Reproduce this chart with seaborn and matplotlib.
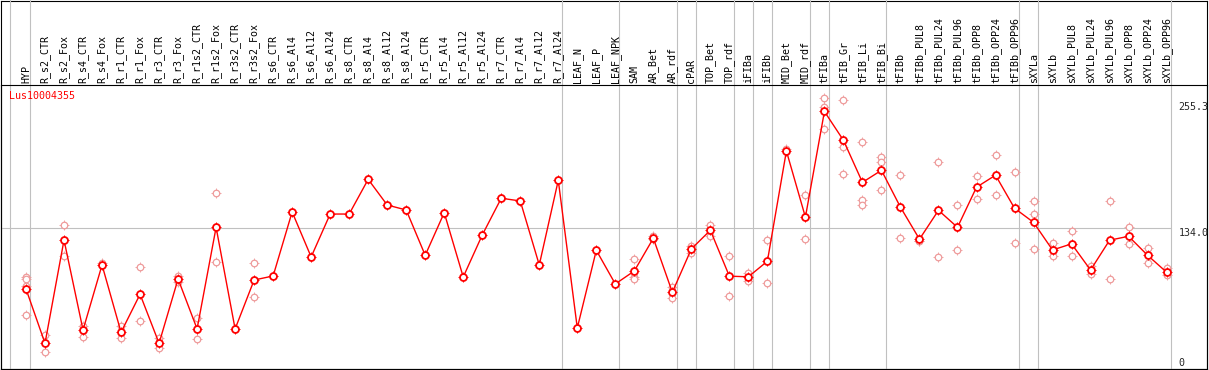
import numpy as np
import pandas as pd
import matplotlib
matplotlib.use("Agg")
import matplotlib.pyplot as plt
import seaborn as sns

# ---------------- data ----------------
categories = [
    "HYP", "R_s2_CTR", "R_s2_Fox", "R_s4_CTR", "R_s4_Fox", "R_r1_CTR", "R_r1_Fox",
    "R_r3_CTR", "R_r3_Fox", "R_r1s2_CTR", "R_r1s2_Fox", "R_r3s2_CTR", "R_r3s2_Fox",
    "R_s6_CTR", "R_s6_Al4", "R_s6_Al12", "R_s6_Al24", "R_s8_CTR", "R_s8_Al4",
    "R_s8_Al12", "R_s8_Al24", "R_r5_CTR", "R_r5_Al4", "R_r5_Al12", "R_r5_Al24",
    "R_r7_CTR", "R_r7_Al4", "R_r7_Al12", "R_r7_Al24", "LEAF_N", "LEAF_P", "LEAF_NPK",
    "SAM", "AR_Bet", "AR_rdf", "cPAR", "TOP_Bet", "TOP_rdf", "iFIBa", "iFIBb",
    "MID_Bet", "MID_rdf", "tFIBa", "tFIB_Gr", "tFIB_Li", "tFIB_Bi", "tFIBb",
    "tFIBb_PUL8", "tFIBb_PUL24", "tFIBb_PUL96", "tFIBb_OPP8", "tFIBb_OPP24",
    "tFIBb_OPP96", "sXYLa", "sXYLb", "sXYLb_PUL8", "sXYLb_PUL24", "sXYLb_PUL96",
    "sXYLb_OPP8", "sXYLb_OPP24", "sXYLb_OPP96",
]

means = [
    75.6, 23.3, 122.7, 36.1, 98.7, 33.9, 70.5, 23.3, 85.2, 37.1, 134.9, 37.1, 84.2,
    88.1, 149.7, 106.4, 147.7, 147.7, 181.1, 156.4, 151.6, 108.0, 149.0, 87.1, 127.5,
    162.9, 160.3, 98.7, 180.2, 38.0, 112.8, 80.4,
    92.9, 124.4, 72.4, 114.1, 132.1, 87.9, 87.3, 102.3,
    208.4, 144.7, 246.4, 218.7, 178.2, 189.8, 154.3,
    123.5, 151.3, 134.9, 173.5, 185.1, 153.3,
    139.7, 113.1, 119.0, 93.8, 122.5, 126.3, 108.0, 91.7,
]

replicates = [
    [86.8, 85.2, 78.4, 50.5], [31.3, 14.6], [137.2, 107.6], [40.2, 29.6], [100.3],
    [40.2, 28.1], [96.4, 44.5], [28.1, 18.5], [88.4, 82.6], [47.9, 27.1],
    [168.2, 101.3], [], [100.3, 67.6],
    [], [], [], [], [], [], [], [], [], [], [], [], [], [], [], [],
    [], [], [],
    [104.1, 87.4, 85.2], [126.9, 123.7], [77.2, 67.2], [117.2, 109.9],
    [137.2, 126.6], [107.0, 68.5], [90.7, 83.5], [122.4, 81.6],
    [210.3], [165.7, 123.4], [259.4, 250.7, 229.3], [257.2, 212.5, 185.9],
    [216.7, 161.2, 156.7], [202.3, 197.8, 170.8], [185.0, 124.4],
    [122.2, 121.8], [197.8, 106.1], [156.4, 112.8], [184.0, 162.5],
    [204.2, 165.7], [188.2, 119.5],
    [160.0, 147.7, 113.8], [120.1, 107.0], [131.4, 107.0], [98.0, 90.3],
    [160.0, 85.2], [134.9, 118.6], [114.7, 100.3], [95.5, 89.0],
]

# last category index of each group (a separator is drawn right after it)
group_ends = [0, 28, 31, 34, 35, 37, 38, 39, 41, 42, 45, 52, 53, 60]
gene_name = "Lus10004355"
ref_value = 134.0
top_value = 255.3

# ---------------- frames ----------------
idx = np.arange(len(categories))
df_mean = pd.DataFrame({"x": idx, "value": means})
df_rep = pd.DataFrame(
    [(i, v) for i, vals in enumerate(replicates) for v in vals], columns=["x", "value"]
)

sns.set_theme(style="white")
plt.rcParams["font.family"] = ["DejaVu Sans Mono", "DejaVu Sans"]

W, H = 1209, 370
fig = plt.figure(figsize=(W / 100, H / 100), dpi=100)

# pixel geometry
x0_px, dx_px = 26.0, 19.01          # first category centre, spacing
y0_px, dy_px = 367.5, 1.039         # value 0 position, px per unit
ax_l, ax_r, ax_t, ax_b = 1.0, 1207.0, 85.0, 369.0

# outer frame
frame = fig.add_axes([ax_l / W, (H - ax_b) / H, (ax_r - ax_l) / W, (ax_b - 0.5) / H])
frame.set_xticks([]); frame.set_yticks([])
for s in frame.spines.values():
    s.set_color("black"); s.set_linewidth(0.8); s.set_visible(True)
frame.set_facecolor("white")
frame.set_zorder(0)

ax = fig.add_axes([ax_l / W, (H - ax_b) / H, (ax_r - ax_l) / W, (ax_b - ax_t) / H])
ax.set_zorder(1)
ax.patch.set_alpha(0)
ax.set_xlim((ax_l - x0_px) / dx_px, (ax_r - x0_px) / dx_px)
ax.set_ylim((y0_px - ax_b) / dy_px, (y0_px - ax_t) / dy_px)
for s in ax.spines.values():
    s.set_color("black"); s.set_linewidth(0.8); s.set_visible(True)

grid_c = "#c0c0c0"
extra = (ax_t - 0) / (ax_b - ax_t)
ax.axvline((10.3 - x0_px) / dx_px, ymin=0, ymax=1 + extra, color=grid_c, lw=0.8,
           clip_on=False, zorder=0.5)
for g in group_ends:
    ax.axvline(g + 0.22, ymin=0, ymax=1 + extra, color=grid_c, lw=0.8,
               clip_on=False, zorder=0.5)
ax.axhline(ref_value, xmin=0, xmax=(1171 - ax_l) / (ax_r - ax_l), color=grid_c,
           lw=0.8, zorder=0.5)

rep_color = "#ee9a9a"
red = "#ff0000"

# replicates: small tick cross, then white-filled ring
sns.scatterplot(data=df_rep, x="x", y="value", ax=ax, marker="+", s=7.0 ** 2,
                color=rep_color, linewidth=0.6, zorder=1.9, legend=False)
sns.scatterplot(data=df_rep, x="x", y="value", ax=ax, marker="o", s=4.7 ** 2,
                facecolor="white", edgecolor=rep_color, linewidth=0.9, zorder=2,
                legend=False)

# means: tick cross under a white-filled ring on the line
sns.scatterplot(data=df_mean, x="x", y="value", ax=ax, marker="+", s=7.6 ** 2,
                color=red, linewidth=0.7, zorder=2.5, legend=False)
sns.lineplot(data=df_mean, x="x", y="value", ax=ax, color=red, lw=1.0,
             estimator=None, sort=False, marker="o", markersize=5.0,
             markerfacecolor="white", markeredgecolor=red,
             markeredgewidth=1.3, zorder=3, legend=False)

ax.set_xlabel(""); ax.set_ylabel("")
ax.set_yticks([])
ax.xaxis.tick_top()
ax.set_xticks(idx)
ax.set_xticklabels(categories, rotation=90, fontsize=7.2, color="black")
ax.tick_params(axis="x", length=0, pad=1.2, top=True, bottom=False,
               labeltop=True, labelbottom=False)

# value labels on the right
lx = (1178.5 - x0_px) / dx_px
ax.text(lx, top_value, f"{top_value:.1f}", ha="left", va="top", fontsize=7.2)
ax.text(lx, ref_value, f"{ref_value:.1f}", ha="left", va="top", fontsize=7.2)
ax.text(lx, 0, "0", ha="left", va="bottom", fontsize=7.2)

fig.text(9 / W, 1 - 91 / H, gene_name, color=red, ha="left", va="top",
         fontsize=7.2)

fig.savefig("out.png", dpi=100)
